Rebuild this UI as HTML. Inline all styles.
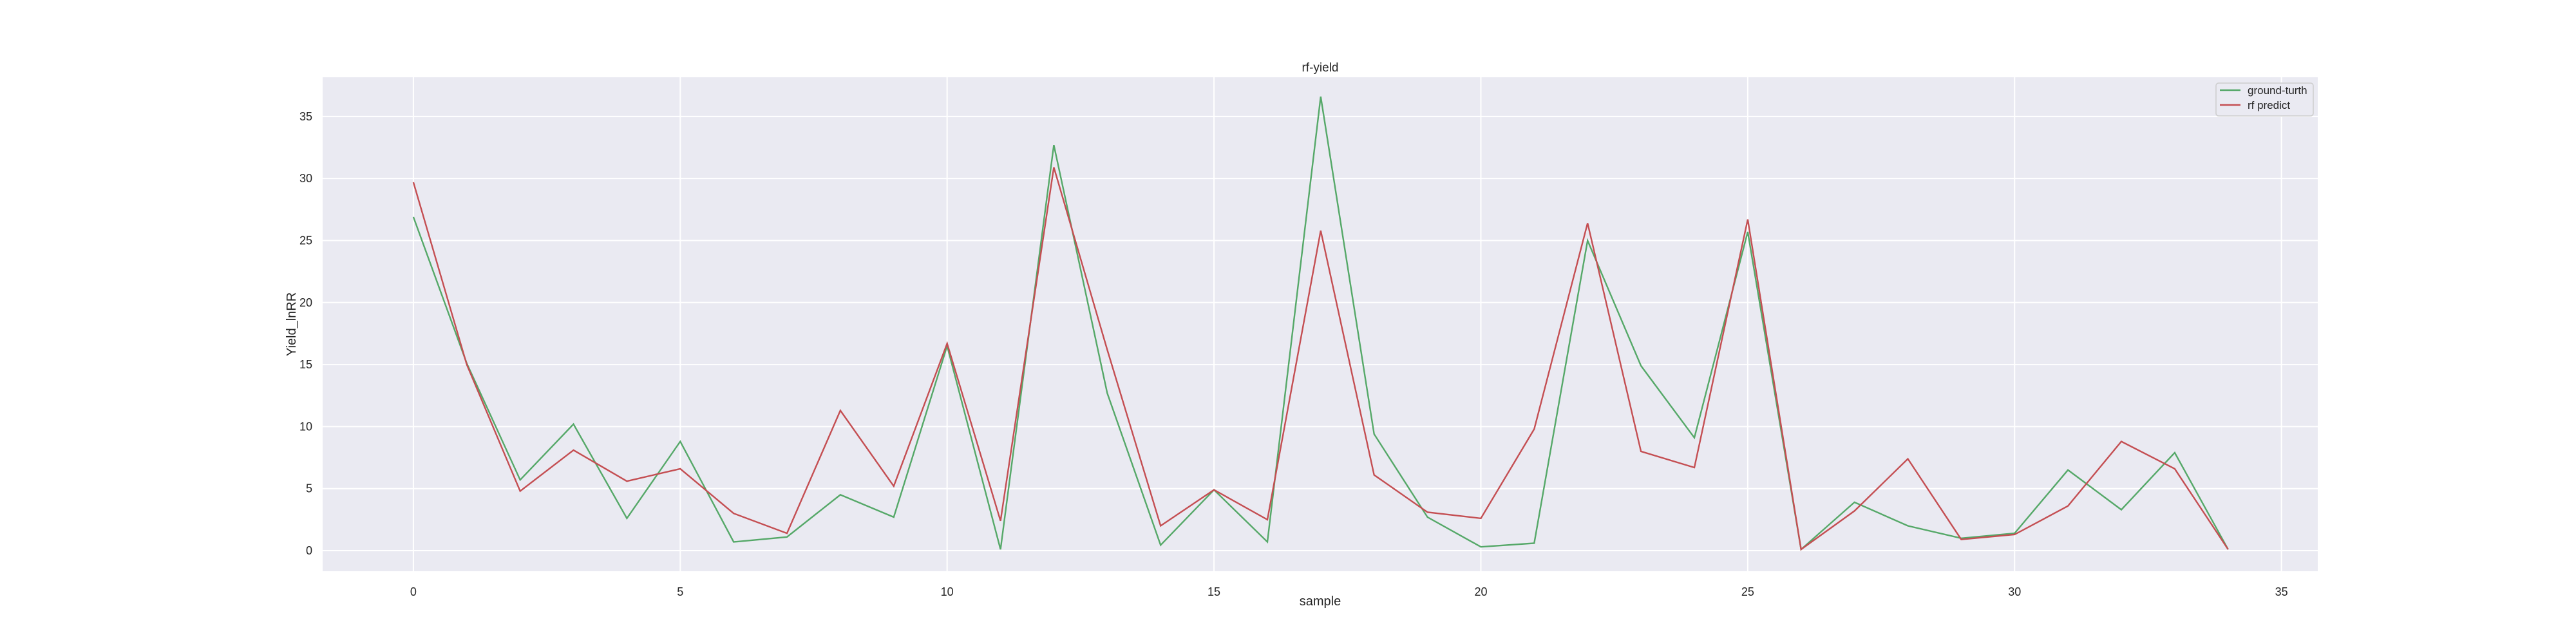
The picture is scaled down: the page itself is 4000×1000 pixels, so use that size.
<!DOCTYPE html>
<html><head><meta charset="utf-8">
<style>
html,body{margin:0;padding:0;background:#fff;}
svg{display:block;font-family:"Liberation Sans","DejaVu Sans",sans-serif;}
</style></head>
<body>
<svg id="chart" width="4000" height="1000" viewBox="0 0 4000 1000">
</svg>
<script>
const samples = [0,1,2,3,4,5,6,7,8,9,10,11,12,13,14,15,16,17,18,19,20,21,22,23,24,25,26,27,28,29,30,31,32,33,34];
const groundTruth = [26.9,15.1,5.7,10.2,2.6,8.8,0.7,1.1,4.5,2.7,16.5,0.1,32.7,12.7,0.45,4.9,0.7,36.6,9.4,2.7,0.3,0.6,25.0,14.9,9.1,25.7,0.1,3.9,2.0,1.0,1.4,6.5,3.3,7.9,0.1];
const rfPredict = [29.7,15.0,4.8,8.1,5.6,6.6,3.0,1.4,11.3,5.2,16.7,2.4,30.9,16.2,2.0,4.9,2.5,25.8,6.1,3.1,2.6,9.8,26.4,8.0,6.7,26.7,0.1,3.2,7.4,0.9,1.3,3.6,8.8,6.6,0.1];
const xTicks = [0,5,10,15,20,25,30,35];
const yTicks = [0,5,10,15,20,25,30,35];

const NS = "http://www.w3.org/2000/svg";
const svg = document.getElementById('chart');
const L=501, R=3599, T=120, B=887;
const xMin=-1.7, xMax=35.68, yMin=-1.66, yMax=38.16;
function sx(v){return L+(v-xMin)/(xMax-xMin)*(R-L);}
function sy(v){return B-(v-yMin)/(yMax-yMin)*(B-T);}
function mk(tag, attrs, parent){const e=document.createElementNS(NS,tag);for(const k in attrs)e.setAttribute(k,attrs[k]);(parent||svg).appendChild(e);return e;}

const bg = mk('rect',{x:L,y:T,width:R-L,height:B-T,fill:'#eaeaf2'});



const grid = mk('g',{});


xTicks.forEach(t=>{
  const l = mk('line',{x1:sx(t),x2:sx(t),y1:T,y2:B,stroke:'#fff','stroke-width':2},grid);
  
  
  const tx = mk('text',{x:sx(t),y:B+38,'text-anchor':'middle','font-size':18,fill:'#262626'});
  tx.textContent = t;
  
  
});
yTicks.forEach(t=>{
  const l = mk('line',{x1:L,x2:R,y1:sy(t),y2:sy(t),stroke:'#fff','stroke-width':2},grid);
  
  
  const tx = mk('text',{x:L-16,y:sy(t)+6,'text-anchor':'end','font-size':18,fill:'#262626'});
  tx.textContent = t;
  
  
});

function series(vals,color,name){
  const d = vals.map((v,i)=>(i?'L':'M')+sx(samples[i]).toFixed(1)+','+sy(v).toFixed(1)).join(' ');
  const p = mk('path',{d:d,fill:'none',stroke:color,'stroke-width':2.4,'stroke-linejoin':'miter'});
  
  
}
series(groundTruth,'#55a868','ground-truth-line');
series(rfPredict,'#c44e52','rf-predict-line');

const title = mk('text',{x:(L+R)/2,y:111,'text-anchor':'middle','font-size':19,fill:'#262626'});
title.textContent='rf-yield';



const xl = mk('text',{x:(L+R)/2,y:940,'text-anchor':'middle','font-size':20,fill:'#262626'});
xl.textContent='sample';



const yl = mk('text',{x:0,y:0,'text-anchor':'middle','font-size':20,fill:'#262626',transform:'translate(459,'+((T+B)/2)+') rotate(-90)'});
yl.textContent='Yield_lnRR';



const lg = mk('g',{});


mk('rect',{x:3441,y:129,width:151,height:51,rx:4,fill:'#eaeaf2',stroke:'#cccccc','stroke-width':1.5},lg);
const items=[['ground-turth','#55a868',140],['rf predict','#c44e52',163]];
items.forEach(it=>{
  const g = mk('g',{},lg);
  
  
  mk('line',{x1:3447,x2:3479,y1:it[2],y2:it[2],stroke:it[1],'stroke-width':2.4},g);
  const t = mk('text',{x:3490,y:it[2]+6,'font-size':17,fill:'#262626'},g);
  t.textContent = it[0];
});
</script>
</body></html>
